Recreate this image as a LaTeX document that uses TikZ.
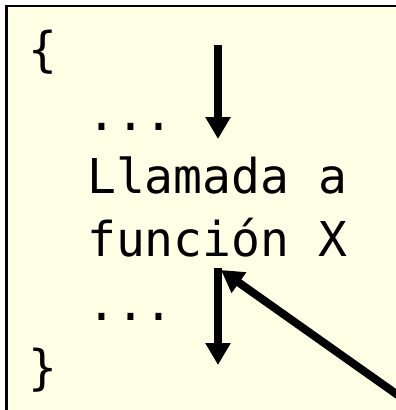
\documentclass[tikz,border=0pt]{standalone}
\usepackage{fontspec}
\setmonofont{DejaVu Sans Mono}
\usepackage{tikz}
\usetikzlibrary{arrows.meta}
\definecolor{paper}{RGB}{255, 255, 230}

\begin{document}
\begin{tikzpicture}[x=1pt, y=-1pt,
  code/.style={font=\ttfamily\fontsize{48}{58}\selectfont, inner sep=0pt, anchor=base west},
  flow/.style={line width=8pt, -{Triangle[width=24pt,length=22pt]}}
]
\clip (0,0) rectangle (396,410);
\draw[line width=2.5pt, fill=paper] (6.5,6) rectangle (430,440);
\node[code] (open) at (28,66) {\{};
\node[code] (dots1) at (87,130) {...};
\node[code] (call1) at (87,193) {Llamada a};
\node[code] (call2) at (87,256) {función X};
\node[code] (dots2) at (87,320) {...};
\node[code] (close) at (28,384) {\}};
\coordinate (entry) at (218,45);
\coordinate (pause) at (218,139);
\coordinate (resume) at (218,268);
\coordinate (leave) at (218,365);
\coordinate (caller) at (402,398);
\coordinate (back) at (221,270);
\draw[flow] (entry) -- (pause);
\draw[flow] (resume) -- (leave);
\draw[flow] (caller) -- (back);
\end{tikzpicture}
\end{document}
